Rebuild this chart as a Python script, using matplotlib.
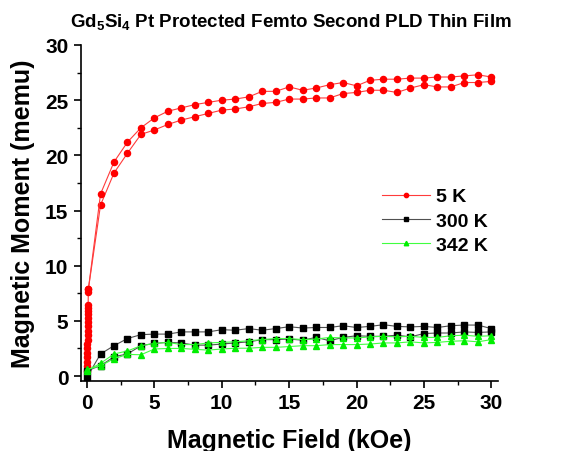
import matplotlib
matplotlib.use("Agg")
import matplotlib.pyplot as plt
from matplotlib.ticker import MultipleLocator

plt.rcParams["font.family"] = ["Liberation Sans", "DejaVu Sans"]
plt.rcParams["font.weight"] = "bold"
plt.rcParams["mathtext.fontset"] = "custom"
plt.rcParams["mathtext.rm"] = "Liberation Sans:bold"
plt.rcParams["mathtext.default"] = "rm"

# field steps (kOe) for the 1 kOe sweeps
field = [0, 1, 2, 3, 4, 5, 6, 7, 8, 9, 10, 11, 12, 13, 14, 15,
         16, 17, 18, 19, 20, 21, 22, 23, 24, 25, 26, 27, 28, 29, 30]

# 5 K: low-field points near zero, then the two branches (1..30 kOe)
red_low_field = [0.0, 0.005, 0.01, 0.015, 0.02, 0.025, 0.03, 0.035, 0.04, 0.045,
                 0.05, 0.055, 0.06, 0.065, 0.07, 0.075, 0.08, 0.09, 0.1]
red_low_m = [0.5, 0.9, 1.3, 1.7, 2.1, 2.5, 2.9, 3.3, 3.7, 4.1,
             4.5, 4.9, 5.3, 5.6, 5.9, 6.2, 6.4, 7.6, 7.9]
red_lower = [15.5, 18.4, 20.2, 21.9, 22.3, 22.8, 23.2, 23.5, 23.8, 24.1,
             24.2, 24.4, 24.7, 24.8, 25.1, 25.1, 25.2, 25.2, 25.6, 25.7,
             25.9, 25.9, 25.7, 26.1, 26.4, 26.2, 26.2, 26.6, 26.6, 26.7]
red_upper = [16.5, 19.4, 21.2, 22.5, 23.4, 24.0, 24.3, 24.6, 24.8, 25.0,
             25.1, 25.3, 25.8, 25.8, 26.2, 25.9, 26.1, 26.4, 26.6, 26.3,
             26.8, 26.9, 26.9, 27.0, 27.0, 27.1, 27.1, 27.2, 27.3, 27.1]

# 300 K
black_upper = [-0.1, 2.0, 2.75, 3.4, 3.75, 3.8, 3.8, 4.0, 4.0, 4.0, 4.2,
               4.15, 4.3, 4.15, 4.3, 4.47, 4.35, 4.4, 4.4, 4.56, 4.4,
               4.5, 4.65, 4.5, 4.45, 4.5, 4.4, 4.56, 4.62, 4.62, 4.3]
black_lower = [0.5, 0.93, 1.75, 2.0, 2.75, 2.96, 3.05, 3.0, 2.8, 2.8, 2.9,
               3.0, 3.1, 3.3, 3.3, 3.35, 3.25, 3.5, 3.2, 3.5, 3.65,
               3.6, 3.6, 3.7, 3.55, 3.85, 3.9, 3.9, 4.0, 3.95, 4.0]

# 342 K
green_upper = [0.5, 1.15, 2.0, 2.27, 2.75, 2.95, 3.05, 2.85, 2.85, 3.0, 3.05,
               3.1, 3.2, 3.3, 3.4, 3.4, 3.3, 3.35, 3.5, 3.45, 3.45,
               3.55, 3.6, 3.55, 3.6, 3.5, 3.5, 3.65, 3.7, 3.6, 3.65]
green_lower = [0.6, 0.93, 1.57, 1.96, 1.93, 2.45, 2.5, 2.5, 2.42, 2.35, 2.45,
               2.52, 2.52, 2.6, 2.6, 2.67, 2.75, 2.75, 2.85, 2.85, 2.85,
               2.9, 3.0, 3.0, 3.1, 3.0, 3.05, 3.15, 3.2, 3.1, 3.3]

fig = plt.figure(figsize=(5.63, 4.52), dpi=100)
ax = fig.add_axes([81 / 563, 1 - 382 / 452, 417 / 563, 336 / 452])

red_kw = dict(color="#ff3b3b", lw=0.8, marker="o", ms=4.4,
              mfc="#ff0000", mec="#ff0000")
blk_kw = dict(color="#505050", lw=0.8, marker="s", ms=3.8,
              mfc="#000000", mec="#000000")
grn_kw = dict(color="#40ff40", lw=0.8, marker="^", ms=4.6,
              mfc="#00ee00", mec="#00ee00")

# red: low field column, increasing branch, then back down
ax.plot(red_low_field + field[1:], red_low_m + red_lower, label="5 K", **red_kw)
ax.plot(field[1:][::-1] + [0.1], red_upper[::-1] + [7.9], **red_kw)

ax.plot(field, black_upper, label="300 K", **blk_kw)
ax.plot(field, black_lower, **blk_kw)

ax.plot(field, green_upper, label="342 K", **grn_kw)
ax.plot(field, green_lower, **grn_kw)

ax.set_xlim(-0.45, 30.5)
ax.set_ylim(-0.45, 30)
ax.xaxis.set_major_locator(MultipleLocator(5))
ax.xaxis.set_minor_locator(MultipleLocator(2.5))
ax.yaxis.set_major_locator(MultipleLocator(5))
ax.yaxis.set_minor_locator(MultipleLocator(2.5))

for side in ["top", "right"]:
    ax.spines[side].set_visible(False)
for side in ["left", "bottom"]:
    ax.spines[side].set_linewidth(1.2)

ax.tick_params(which="major", direction="out", length=5, width=1.2,
               labelsize=15, pad=4)
ax.tick_params(which="minor", direction="out", length=3, width=1.0)
for lab in ax.get_xticklabels() + ax.get_yticklabels():
    lab.set_fontweight("bold")

ax.set_xlabel("Magnetic Field (kOe)", fontsize=18, fontweight="bold", labelpad=11)
ax.set_ylabel("Magnetic Moment (memu)", fontsize=18, fontweight="bold", labelpad=7)

fig.text(0.516, 1 - 22 / 452, "Gd$_5$Si$_4$ Pt Protected Femto Second PLD Thin Film",
         ha="center", va="center", fontsize=13.5, fontweight="bold")

leg = ax.legend(loc="upper left", bbox_to_anchor=(372 / 563, 1 - 179 / 452),
                bbox_transform=fig.transFigure, frameon=False, fontsize=14,
                handlelength=2.5, handletextpad=0.3, labelspacing=0.35,
                borderpad=0, numpoints=1, markerscale=0.7)
for t in leg.get_texts():
    t.set_fontweight("bold")

fig.savefig("out.png", dpi=100)
